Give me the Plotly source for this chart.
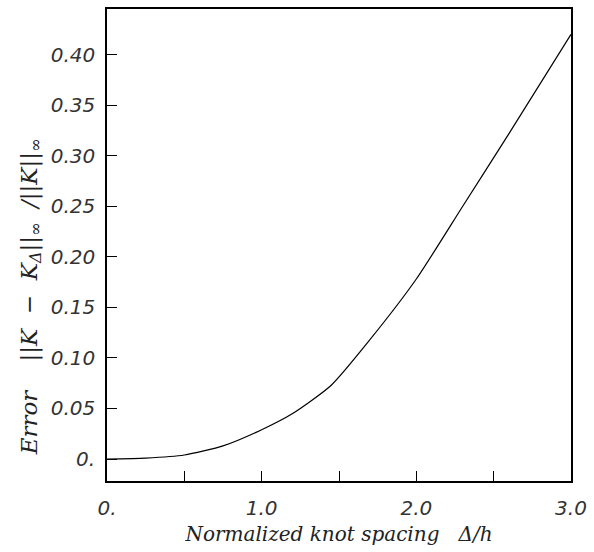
import plotly.graph_objects as go

# Data
knot_spacing = [0.0, 0.25, 0.5, 0.75, 1.0, 1.2, 1.45, 1.7, 2.0, 2.3, 2.6, 3.0]
error_vals = [0.0, 0.001, 0.004, 0.013, 0.029, 0.045, 0.073, 0.118, 0.178, 0.250, 0.322, 0.420]

x_tickvals = [0.0, 0.5, 1.0, 1.5, 2.0, 2.5, 3.0]
x_ticktext = ["0.", "", "1.0", "", "2.0", "", "3.0"]
y_tickvals = [0.0, 0.05, 0.10, 0.15, 0.20, 0.25, 0.30, 0.35, 0.40]
y_ticktext = ["0.", "0.05", "0.10", "0.15", "0.20", "0.25", "0.30", "0.35", "0.40"]

fig = go.Figure()
fig.add_trace(go.Scatter(x=knot_spacing, y=error_vals, mode="lines",
                         line=dict(color="black", width=1.2, shape="spline", smoothing=0.6),
                         showlegend=False))

tick_font = dict(family="DejaVu Sans", size=20, color="#333", style="italic", weight=300)
x_title_font = dict(family="DejaVu Serif", size=20, color="#222", style="italic")
y_title_font = dict(family="DejaVu Serif", size=23, color="#222", style="italic")

nb = "\u00a0"
x_title = f"Normalized{nb}knot{nb}spacing{nb*3}Δ/h"
y_title = (f"Error{nb*4}||K{nb*2}−{nb*2}K<sub>Δ</sub>||<sub>∞</sub>"
           f"{nb*2}/||K||<sub>∞</sub>")

fig.update_layout(
    width=594, height=552,
    margin=dict(l=107, r=19, t=7, b=71),
    plot_bgcolor="white", paper_bgcolor="white",
    xaxis=dict(range=[0, 3.0], tickvals=x_tickvals, ticktext=x_ticktext,
               ticks="inside", ticklen=10, tickwidth=1.2, tickcolor="black",
               showline=True, linecolor="black", linewidth=1.6, mirror=True,
               showgrid=False, zeroline=False, tickfont=tick_font,
               ticklabelstandoff=8,
               title=dict(text=x_title, font=x_title_font, standoff=8)),
    yaxis=dict(range=[-0.0217, 0.445], tickvals=y_tickvals, ticktext=y_ticktext,
               ticks="inside", ticklen=10, tickwidth=1.2, tickcolor="black",
               showline=True, linecolor="black", linewidth=1.6, mirror=True,
               showgrid=False, zeroline=False, tickfont=tick_font,
               ticklabelstandoff=6),
)

fig.add_annotation(
    text=y_title,
    xref="paper", yref="paper", x=-0.165, y=0.39,
    xanchor="center", yanchor="middle", textangle=-90, showarrow=False,
    font=y_title_font,
)

fig.write_html("out.html")
